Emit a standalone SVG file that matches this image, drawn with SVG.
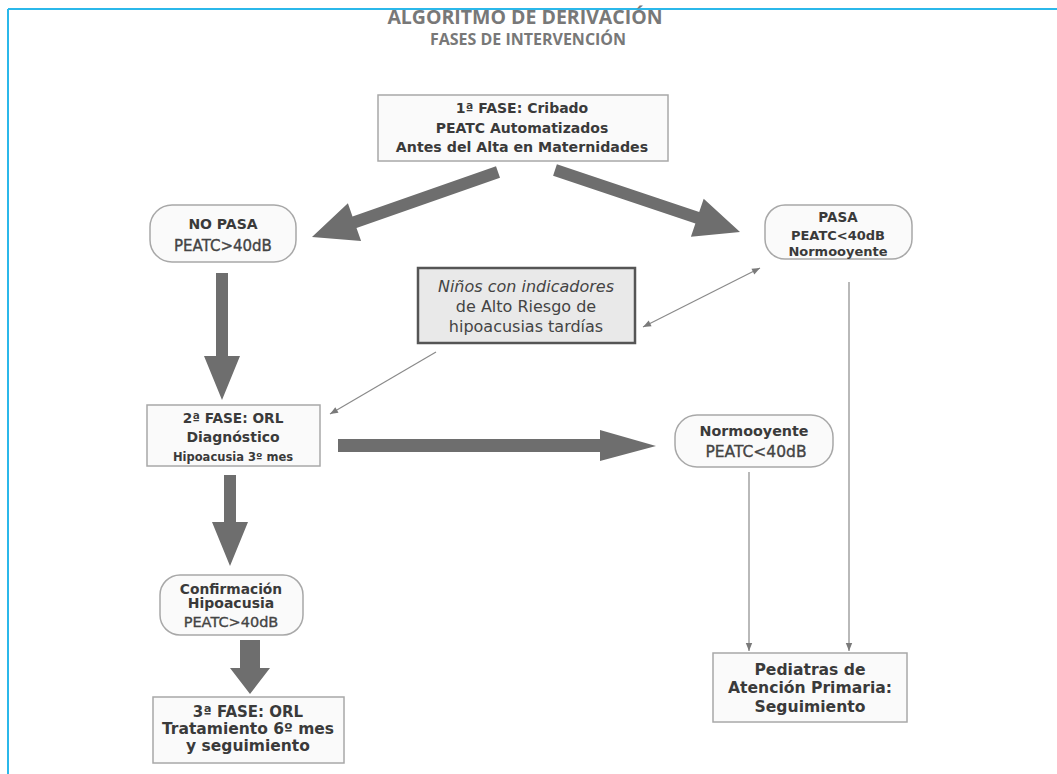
<svg xmlns="http://www.w3.org/2000/svg" width="1057" height="774" viewBox="0 0 1057 774">
<defs>
<style>
.t{font-family:"DejaVu Sans","Liberation Sans",sans-serif;font-weight:bold;fill:#3a3a3a;text-anchor:middle}
.n{font-family:"DejaVu Sans","Liberation Sans",sans-serif;fill:#444;text-anchor:middle}
.m{font-family:"DejaVu Sans","Liberation Sans",sans-serif;fill:#444;stroke:#444;stroke-width:0.35;text-anchor:middle}
.title{font-family:"Open Sans","Liberation Sans",sans-serif;font-weight:bold;fill:#787878;text-anchor:middle}
.box{fill:#fafafa;stroke:#a8a8a8;stroke-width:1.5}
.big{fill:#6e6e6e}
.thin{stroke:#8a8a8a;stroke-width:1.2;fill:none}
</style>
<marker id="ah" viewBox="0 0 10 10" refX="10" refY="5" markerWidth="10" markerHeight="8" markerUnits="userSpaceOnUse" orient="auto-start-reverse">
<path d="M0,1 L10,5 L0,9 Z" fill="#7a7a7a"/>
</marker>
</defs>
<rect width="1057" height="774" fill="#ffffff"/>
<g id="frame">
<line x1="8" y1="9" x2="1057" y2="9" stroke="#2bb8ea" stroke-width="2"/>
<line x1="8" y1="9" x2="8" y2="774" stroke="#2bb8ea" stroke-width="2"/>
</g>
<g id="title">
<text class="title" x="525" y="24" font-size="19.5">ALGORITMO DE DERIVACIÓN</text>
<text class="title" x="528" y="45" font-size="16">FASES DE INTERVENCIÓN</text>
</g>
<g id="connectors">
<polygon class="big" points="496.0,166.3 352.5,216.5 347.9,203.3 312,237 361.1,241.1 356.5,227.9 500.0,177.7"/>
<polygon class="big" points="556.9,164.3 699.2,212.0 703.7,198.7 740,232 690.9,236.7 695.4,223.4 553.1,175.7"/>
<polygon class="big" points="216,273 228,273 228,356 240,356 222,400 204,356 216,356"/>
<polygon class="big" points="224,475 236,475 236,522 248,522 230,566 212,522 224,522"/>
<polygon class="big" points="240,640 260,640 260,668 270,668 250,694 230,668 240,668"/>
<polygon class="big" points="338,439 600,439 600,430 656,446 600,461 600,452 338,452"/>
<line class="thin" x1="643" y1="327" x2="760" y2="268" marker-start="url(#ah)" marker-end="url(#ah)"/>
<line class="thin" x1="436" y1="352" x2="330" y2="414" marker-end="url(#ah)"/>
<line class="thin" x1="849" y1="282" x2="849" y2="651" marker-end="url(#ah)"/>
<line class="thin" x1="749" y1="472" x2="749" y2="651" marker-end="url(#ah)"/>
</g>
<g id="fase1">
<rect class="box" x="378" y="95" width="290" height="66"/>
<text class="t" x="522" y="113" font-size="14">1ª FASE: Cribado</text>
<text class="t" x="522" y="133" font-size="14">PEATC Automatizados</text>
<text class="t" x="522" y="152" font-size="14.2">Antes del Alta en Maternidades</text>
</g>
<g id="nopasa">
<rect class="box" x="150" y="205" width="146" height="57" rx="22"/>
<text class="t" x="223" y="229" font-size="14">NO PASA</text>
<text class="m" x="223" y="251" font-size="15">PEATC&gt;40dB</text>
</g>
<g id="pasa">
<rect class="box" x="765" y="205" width="147" height="54" rx="20"/>
<text class="t" x="838" y="222" font-size="13.5">PASA</text>
<text class="t" x="838" y="240" font-size="13">PEATC&lt;40dB</text>
<text class="t" x="838" y="256" font-size="13">Normooyente</text>
</g>
<g id="riesgo">
<rect x="418" y="268" width="217" height="75" fill="#e9e9e9" stroke="#555" stroke-width="2.5"/>
<text class="n" x="526" y="292" font-size="16" font-style="italic">Niños con indicadores</text>
<text class="n" x="526" y="312" font-size="16">de Alto Riesgo de</text>
<text class="n" x="526" y="332" font-size="16">hipoacusias tardías</text>
</g>
<g id="fase2">
<rect class="box" x="147" y="405" width="173" height="61"/>
<text class="t" x="233" y="423" font-size="13.7">2ª FASE: ORL</text>
<text class="t" x="233" y="442" font-size="14">Diagnóstico</text>
<text class="t" x="233" y="461" font-size="11.5" fill="#555">Hipoacusia 3º mes</text>
</g>
<g id="normo">
<rect class="box" x="675" y="415" width="158" height="52" rx="22"/>
<text class="t" x="754" y="436" font-size="14.3">Normooyente</text>
<text class="m" x="756" y="457" font-size="15.5">PEATC&lt;40dB</text>
</g>
<g id="confirmacion">
<rect class="box" x="160" y="575" width="143" height="60" rx="20"/>
<text class="t" x="231" y="594" font-size="13.8">Confirmación</text>
<text class="t" x="231" y="608" font-size="14">Hipoacusia</text>
<text class="m" x="231" y="627" font-size="14.5">PEATC&gt;40dB</text>
</g>
<g id="fase3">
<rect class="box" x="153" y="697" width="191" height="66"/>
<text class="t" x="248" y="717" font-size="15">3ª FASE: ORL</text>
<text class="t" x="248" y="734" font-size="15.5">Tratamiento 6º mes</text>
<text class="t" x="248" y="751" font-size="15.5">y seguimiento</text>
</g>
<g id="pediatras">
<rect class="box" x="713" y="653" width="194" height="69"/>
<text class="t" x="810" y="675" font-size="15.6">Pediatras de</text>
<text class="t" x="810" y="693" font-size="15.6">Atención Primaria:</text>
<text class="t" x="810" y="712" font-size="15.6">Seguimiento</text>
</g>
</svg>
